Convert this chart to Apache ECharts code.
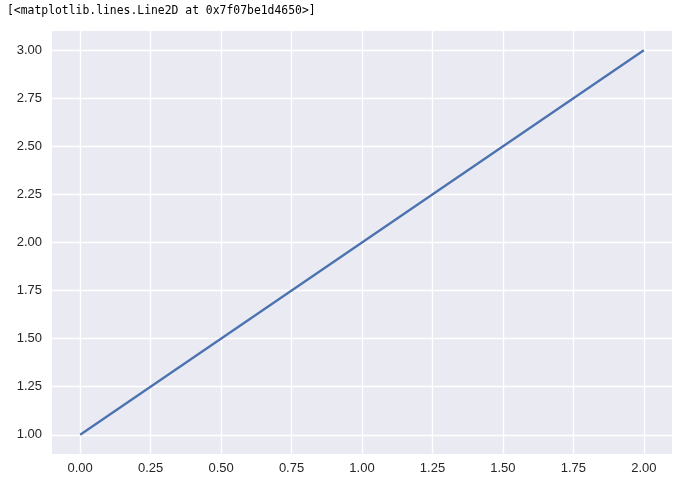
<!DOCTYPE html>
<html>
<head>
<meta charset="utf-8">
<script src="https://cdn.jsdelivr.net/npm/echarts@6/dist/echarts.min.js"></script>
<style>
html,body{margin:0;padding:0;background:#fff;}
#c{width:677px;height:485px;}
</style>
</head>
<body>
<div id="c"></div>
<script>
const xValues = [0, 1, 2];
const yValues = [1, 2, 3];
const xTicks = [0, 0.25, 0.5, 0.75, 1.0, 1.25, 1.5, 1.75, 2.0];
const yTicks = [1.0, 1.25, 1.5, 1.75, 2.0, 2.25, 2.5, 2.75, 3.0];
const titleText = '[<matplotlib.lines.Line2D at 0x7f07be1d4650>]';

const chart = echarts.init(document.getElementById('c'), null, {renderer: 'canvas'});
const labelStyle = {color: '#262626', fontFamily: 'Liberation Sans, Arial, sans-serif', fontSize: 13};
chart.setOption({
  animation: false,
  backgroundColor: '#ffffff',
  title: {
    text: titleText,
    left: 2,
    top: 1,
    textStyle: {fontFamily: 'DejaVu Sans Mono, monospace', fontSize: 11.4, fontWeight: 'normal', color: '#000'}
  },
  grid: {left: 52, right: 5, top: 31, bottom: 31, backgroundColor: '#eaeaf2', show: true, borderWidth: 0},
  xAxis: {
    type: 'value', min: -0.1, max: 2.1,
    axisLine: {show: false},
    axisTick: {show: false, customValues: xTicks},
    splitLine: {show: true, lineStyle: {color: '#ffffff', width: 1.3}},
    axisLabel: Object.assign({customValues: xTicks, margin: 8, formatter: v => v.toFixed(2)}, labelStyle)
  },
  yAxis: {
    type: 'value', min: 0.9, max: 3.1,
    axisLine: {show: false},
    axisTick: {show: false, customValues: yTicks},
    splitLine: {show: true, lineStyle: {color: '#ffffff', width: 1.3}},
    axisLabel: Object.assign({customValues: yTicks, margin: 10, formatter: v => v.toFixed(2)}, labelStyle)
  },
  series: [{
    type: 'line',
    data: xValues.map((x, i) => [x, yValues[i]]),
    showSymbol: false,
    lineStyle: {color: '#4c72b0', width: 2.3},
    itemStyle: {color: '#4c72b0'}
  }]
});
</script>
</body>
</html>
